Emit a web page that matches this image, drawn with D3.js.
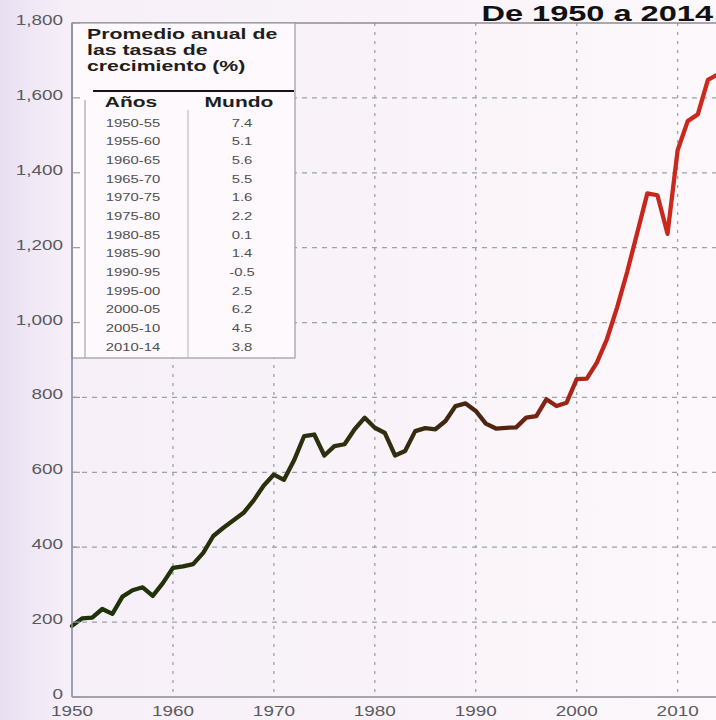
<!DOCTYPE html>
<html>
<head>
<meta charset="utf-8">
<script src="https://cdn.jsdelivr.net/npm/d3@7"></script>
<style>
  body { margin: 0; background: #fbf5fa; }
  svg { display: block; font-family: "Liberation Sans", Arial, sans-serif; }
</style>
</head>
<body>
<svg width="716" height="720"></svg>
<script>
var years = [1950,1951,1952,1953,1954,1955,1956,1957,1958,1959,
             1960,1961,1962,1963,1964,1965,1966,1967,1968,1969,
             1970,1971,1972,1973,1974,1975,1976,1977,1978,1979,
             1980,1981,1982,1983,1984,1985,1986,1987,1988,1989,
             1990,1991,1992,1993,1994,1995,1996,1997,1998,1999,
             2000,2001,2002,2003,2004,2005,2006,2007,2008,2009,
             2010,2011,2012,2013,2014];
var values = [190,210,212,235,222,268,285,293,270,304,
              345,349,355,385,430,452,472,492,525,565,
              594,580,632,697,701,645,670,675,715,746,
              719,705,645,657,710,718,715,737,777,784,
              764,730,717,719,720,746,750,795,777,786,
              849,850,893,956,1040,1135,1240,1345,1340,1237,
              1460,1538,1556,1648,1663];

var yTicks = [0,200,400,600,800,1000,1200,1400,1600,1800];
var xTicks = [1950,1960,1970,1980,1990,2000,2010];

var titleText = "De 1950 a 2014";
var boxTitle = ["Promedio anual de", "las tasas de", "crecimiento (%)"];
var colHeads = ["Años", "Mundo"];
var periods = ["1950-55","1955-60","1960-65","1965-70","1970-75","1975-80","1980-85",
               "1985-90","1990-95","1995-00","2000-05","2005-10","2010-14"];
var rates = ["7.4","5.1","5.6","5.5","1.6","2.2","0.1","1.4","-0.5","2.5","6.2","4.5","3.8"];

var svg = d3.select("svg"),
    sx = 1.35; // the printed type is stretched sideways

var x = d3.scaleLinear().domain([1950, 2014]).range([72, 718]),
    y = d3.scaleLinear().domain([0, 1800]).range([697, 23]);

function stretch(sel, px, py, s) {
  return sel.attr("transform", "translate(" + px + "," + py + ") scale(" + (s || sx) + ",1)");
}

// background: lavender on the left fading into pale pink
var defs = svg.append("defs");
var bg = defs.append("linearGradient").attr("id", "bg").attr("x1", 0).attr("x2", 1);
bg.append("stop").attr("offset", "0%").attr("stop-color", "#e8e0f2");
bg.append("stop").attr("offset", "9%").attr("stop-color", "#f6eff8");
bg.append("stop").attr("offset", "100%").attr("stop-color", "#fdf8fb");
svg.append("rect").attr("width", 716).attr("height", 720).attr("fill", "url(#bg)");

// gridlines
var g = svg.append("g");
g.selectAll(".hgrid")
    .data(yTicks.filter(function(d) { return d > 0 && d < 1800; }))
  .enter().append("line")
    .attr("class", "hgrid")
    .attr("x1", x(1950)).attr("x2", 716)
    .attr("y1", function(d) { return y(d); })
    .attr("y2", function(d) { return y(d); })
    .attr("stroke", "#a0a0a6")
    .attr("stroke-width", 1.3)
    .attr("stroke-dasharray", "5,5");

g.selectAll(".vgrid")
    .data(xTicks.slice(1))
  .enter().append("line")
    .attr("class", "vgrid")
    .attr("x1", function(d) { return x(d); })
    .attr("x2", function(d) { return x(d); })
    .attr("y1", y(1800)).attr("y2", y(0))
    .attr("stroke", "#a0a0a6")
    .attr("stroke-width", 1.3)
    .attr("stroke-dasharray", "3,6");

// top frame line
g.append("line")
    .attr("x1", x(1950)).attr("x2", 716)
    .attr("y1", y(1800)).attr("y2", y(1800))
    .attr("stroke", "#8c8c92")
    .attr("stroke-width", 1.3);

// line colour runs from dark olive to red
var lg = defs.append("linearGradient")
    .attr("id", "lineGrad")
    .attr("gradientUnits", "userSpaceOnUse")
    .attr("x1", x(1950)).attr("x2", x(2014)).attr("y1", 0).attr("y2", 0);
[[1950, "#1d3208"], [1974, "#2c300c"], [1986, "#3a2a10"], [1993, "#552214"],
 [1999, "#a02418"], [2003, "#c4261c"], [2014, "#cc2a1e"]].forEach(function(s) {
  lg.append("stop")
    .attr("offset", ((s[0] - 1950) / 64 * 100) + "%")
    .attr("stop-color", s[1]);
});

var line = d3.line()
    .x(function(d, i) { return x(years[i]); })
    .y(function(d) { return y(d); });

svg.append("path")
    .datum(values)
    .attr("fill", "none")
    .attr("stroke", "url(#lineGrad)")
    .attr("stroke-width", 4.3)
    .attr("stroke-linejoin", "round")
    .attr("stroke-linecap", "round")
    .attr("d", line);

// table box
var box = svg.append("g");
box.append("rect")
    .attr("x", 72).attr("y", 23)
    .attr("width", 223).attr("height", 335)
    .attr("fill", "#fdf9fc")
    .attr("stroke", "#9a9aa2")
    .attr("stroke-width", 1.2);

boxTitle.forEach(function(t, i) {
  stretch(box.append("text"), 87, 39 + i * 16, 1.52)
      .attr("font-size", 14)
      .attr("font-weight", "bold")
      .attr("fill", "#1e1e1e")
      .text(t);
});

box.append("line")
    .attr("x1", 93).attr("x2", 294).attr("y1", 91).attr("y2", 91)
    .attr("stroke", "#151515").attr("stroke-width", 2);

box.append("line")
    .attr("x1", 85).attr("x2", 85).attr("y1", 100).attr("y2", 358)
    .attr("stroke", "#a6a6ae").attr("stroke-width", 1.2);
box.append("line")
    .attr("x1", 188).attr("x2", 188).attr("y1", 110).attr("y2", 358)
    .attr("stroke", "#b4b4bc").attr("stroke-width", 1);

[131, 239].forEach(function(cx, i) {
  stretch(box.append("text"), cx, 107, 1.4)
      .attr("font-size", 15)
      .attr("font-weight", "bold")
      .attr("text-anchor", "middle")
      .attr("fill", "#1e1e1e")
      .text(colHeads[i]);
});

box.selectAll(".period")
    .data(periods)
  .enter().append("text")
    .attr("class", "period")
    .attr("transform", function(d, i) { return "translate(133," + (126.7 + i * 18.67) + ") scale(" + sx + ",1)"; })
    .attr("font-size", 11)
    .attr("text-anchor", "middle")
    .attr("fill", "#505050")
    .text(function(d) { return d; });

box.selectAll(".rate")
    .data(rates)
  .enter().append("text")
    .attr("class", "rate")
    .attr("transform", function(d, i) { return "translate(242," + (126.7 + i * 18.67) + ") scale(" + sx + ",1)"; })
    .attr("font-size", 11)
    .attr("text-anchor", "middle")
    .attr("fill", "#505050")
    .text(function(d) { return d; });

// axes
var axes = svg.append("g");
axes.append("line")
    .attr("x1", x(1950)).attr("x2", x(1950)).attr("y1", y(1800)).attr("y2", y(0))
    .attr("stroke", "#868aa0").attr("stroke-width", 1.6);
axes.append("line")
    .attr("x1", x(1950)).attr("x2", 716).attr("y1", y(0)).attr("y2", y(0))
    .attr("stroke", "#8a8a92").attr("stroke-width", 1.4);

axes.selectAll(".ytick")
    .data(yTicks)
  .enter().append("line")
    .attr("class", "ytick")
    .attr("x1", x(1950)).attr("x2", x(1950) + 8)
    .attr("y1", function(d) { return y(d); })
    .attr("y2", function(d) { return y(d); })
    .attr("stroke", "#9a9aa2").attr("stroke-width", 1.2);

var fmt = d3.format(",");
axes.selectAll(".ylab")
    .data(yTicks)
  .enter().append("text")
    .attr("class", "ylab")
    .attr("transform", function(d) { return "translate(63," + (y(d) + 2) + ") scale(" + sx + ",1)"; })
    .attr("font-size", 14)
    .attr("text-anchor", "end")
    .attr("fill", "#5a5a5e")
    .text(function(d) { return fmt(d); });

axes.selectAll(".xlab")
    .data(xTicks)
  .enter().append("text")
    .attr("class", "xlab")
    .attr("transform", function(d) { return "translate(" + x(d) + ",716) scale(" + sx + ",1)"; })
    .attr("font-size", 14)
    .attr("text-anchor", "middle")
    .attr("fill", "#5a5a5e")
    .text(function(d) { return d; });

// title sits right at the top edge
stretch(svg.append("text"), 713, 21, 1.48)
    .attr("font-size", 22)
    .attr("font-weight", "bold")
    .attr("text-anchor", "end")
    .attr("fill", "#111")
    .text(titleText);
</script>
</body>
</html>
